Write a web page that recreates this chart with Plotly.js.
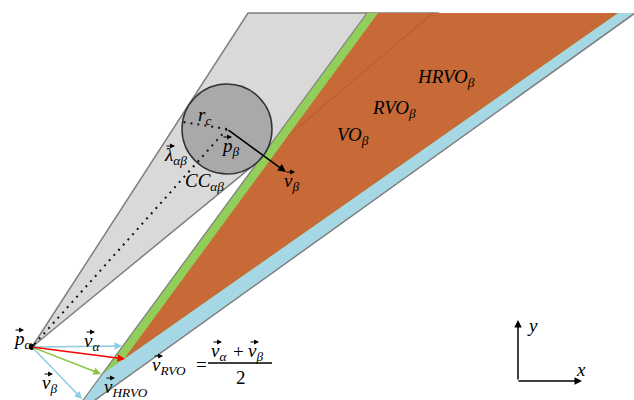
<!DOCTYPE html>
<html>
<head>
<meta charset="utf-8">
<script src="https://cdn.plot.ly/plotly-3.0.1.min.js"></script>
<style>html,body{margin:0;padding:0;background:#fff;}#chart{width:634px;height:400px;}</style>
</head>
<body>
<div id="chart"></div>
<script>
// ---- diagram data (pixel-like units, y downward) ----
const pAlpha = [32, 347];
const pBeta = [227, 129];
const radiusC = 45;
const vAlphaTip = [122, 346];
const vBetaTip = [82, 399];
const vRvoTip = [125, 359];
const vHrvoTip = [101, 374];
const vBetaArrowTip = [286, 172];
const rcEnd = [183, 122];

const grayConeX = [32, 248, 439];
const grayConeY = [347, 13, 13];
const voConeX = [70, 367, 635];
const voConeY = [418, 13, 13];
const hrvoConeX = [101.5, 367, 618];
const hrvoConeY = [374.7, 13, 13];
const rvoConeX = [124, 378, 618];
const rvoConeY = [359, 13, 13];
const innerLineX = [433, 288];
const innerLineY = [13, 136];

const FAM = 'Liberation Serif, DejaVu Serif, serif';
const FONT = {family: FAM, size: 19, color: '#000', style: 'italic'};
const UPRIGHT = {family: FAM, size: 19, color: '#000', style: 'normal'};

const traces = [];
function poly(xs, ys, fill, line) {
  traces.push({x: xs.concat([xs[0]]), y: ys.concat([ys[0]]), mode: 'lines', fill: 'toself',
    fillcolor: fill, line: line || {width: 0, color: fill}, hoverinfo: 'skip', showlegend: false});
}
function seg(xs, ys, color, width, dash) {
  traces.push({x: xs, y: ys, mode: 'lines', line: {color: color, width: width, dash: dash || 'solid'},
    hoverinfo: 'skip', showlegend: false});
}
poly(grayConeX, grayConeY, '#d9d9d9', {color: '#7f7f7f', width: 1.5});
poly(voConeX, voConeY, '#a6d7e4');
poly(hrvoConeX, hrvoConeY, '#92cf5a');
poly(rvoConeX, rvoConeY, '#c76a38');
seg(innerLineX, innerLineY, 'rgba(170,80,30,0.6)', 1);
seg([voConeX[0], voConeX[1]], [voConeY[0], voConeY[1]], '#7f7f7f', 1.2);
seg([voConeX[0], voConeX[2]], [voConeY[0], voConeY[2]], '#7f7f7f', 1.5);

const DOTS = '2px,5px';
const shapes = [
  {type: 'circle', xref: 'x', yref: 'y', x0: pBeta[0] - radiusC, x1: pBeta[0] + radiusC,
   y0: pBeta[1] - radiusC, y1: pBeta[1] + radiusC, fillcolor: '#a9a9a9', line: {color: '#333', width: 1.5}, layer: 'above'},
  {type: 'line', xref: 'x', yref: 'y', x0: pBeta[0], y0: pBeta[1], x1: pAlpha[0], y1: pAlpha[1],
   line: {color: '#111', width: 2, dash: DOTS}, layer: 'above'},
  {type: 'line', xref: 'x', yref: 'y', x0: pBeta[0], y0: pBeta[1], x1: rcEnd[0], y1: rcEnd[1],
   line: {color: '#111', width: 2, dash: DOTS}, layer: 'above'},
  {type: 'line', xref: 'x', yref: 'y', x0: 208, y0: 363, x1: 272, y1: 363, line: {color: '#000', width: 1.5}, layer: 'above'}
];

traces.push({x: [pAlpha[0], pBeta[0]], y: [pAlpha[1], pBeta[1]], mode: 'markers',
  marker: {color: '#000', size: 6}, hoverinfo: 'skip', showlegend: false});

function arrow(tail, head, color, width, size) {
  return {x: head[0], y: head[1], ax: tail[0], ay: tail[1], xref: 'x', yref: 'y', axref: 'x', ayref: 'y',
    text: '', showarrow: true, arrowhead: 2, arrowsize: size || 1, arrowwidth: width || 1.5, arrowcolor: color};
}
function label(text, x, y, opts) {
  return Object.assign({x: x, y: y, xref: 'x', yref: 'y', text: text, showarrow: false,
    xanchor: 'left', yanchor: 'middle', font: FONT, borderpad: 0}, opts || {});
}
const annotations = [
  arrow(pAlpha, vAlphaTip, '#8dcde2', 1.5),
  arrow(pAlpha, vBetaTip, '#8dcde2', 1.5),
  arrow(pAlpha, vHrvoTip, '#8cc63f', 1.5),
  arrow(pAlpha, vRvoTip, '#ff0000', 1.5),
  arrow(pBeta, vBetaArrowTip, '#000', 1.6),
  arrow([518, 381], [518, 320], '#000', 1.5),
  arrow([517, 381], [582, 381], '#000', 1.5)
];
// vector label: letter + subscript, with a small arrow over the letter
function vec(letter, sub, left, cy) {
  annotations.push(label(letter + (sub ? '<sub>' + sub + '</sub>' : ''), left - 1, cy + 2));
  annotations.push(arrow([left + 1, cy - 8], [left + 11, cy - 8], '#000', 1.1, 0.9));
}
vec('p', 'α', 13, 338);
vec('v', 'α', 84, 340);
vec('v', 'β', 42, 382);
vec('v', 'HRVO', 104, 386);
vec('v', 'RVO', 152, 364);
vec('v', 'α', 211, 350);
annotations.push(label('+', 232, 351, {font: UPRIGHT}));
vec('v', 'β', 248, 350);
annotations.push(label('=', 195, 364, {font: UPRIGHT}));
annotations.push(label('2', 235, 377, {font: UPRIGHT}));
vec('p', 'β', 221, 145);
vec('λ', 'αβ', 164, 154);
vec('v', 'β', 284, 180);
annotations.push(label('r<sub>c</sub>', 197, 116));
annotations.push(label('CC<sub>αβ</sub>', 184, 182));
annotations.push(label('HRVO<sub>β</sub>', 416, 78));
annotations.push(label('RVO<sub>β</sub>', 371, 109));
annotations.push(label('VO<sub>β</sub>', 336, 136));
annotations.push(label('y', 526, 325));
annotations.push(label('x', 575, 369));

const layout = {
  width: 634, height: 400, margin: {l: 0, r: 0, t: 0, b: 0},
  paper_bgcolor: '#fff', plot_bgcolor: '#fff', showlegend: false,
  xaxis: {range: [0, 634], visible: false, fixedrange: true},
  yaxis: {range: [400, 0], visible: false, fixedrange: true},
  shapes: shapes, annotations: annotations
};
Plotly.newPlot('chart', traces, layout, {staticPlot: true, displayModeBar: false});
</script>
</body>
</html>
